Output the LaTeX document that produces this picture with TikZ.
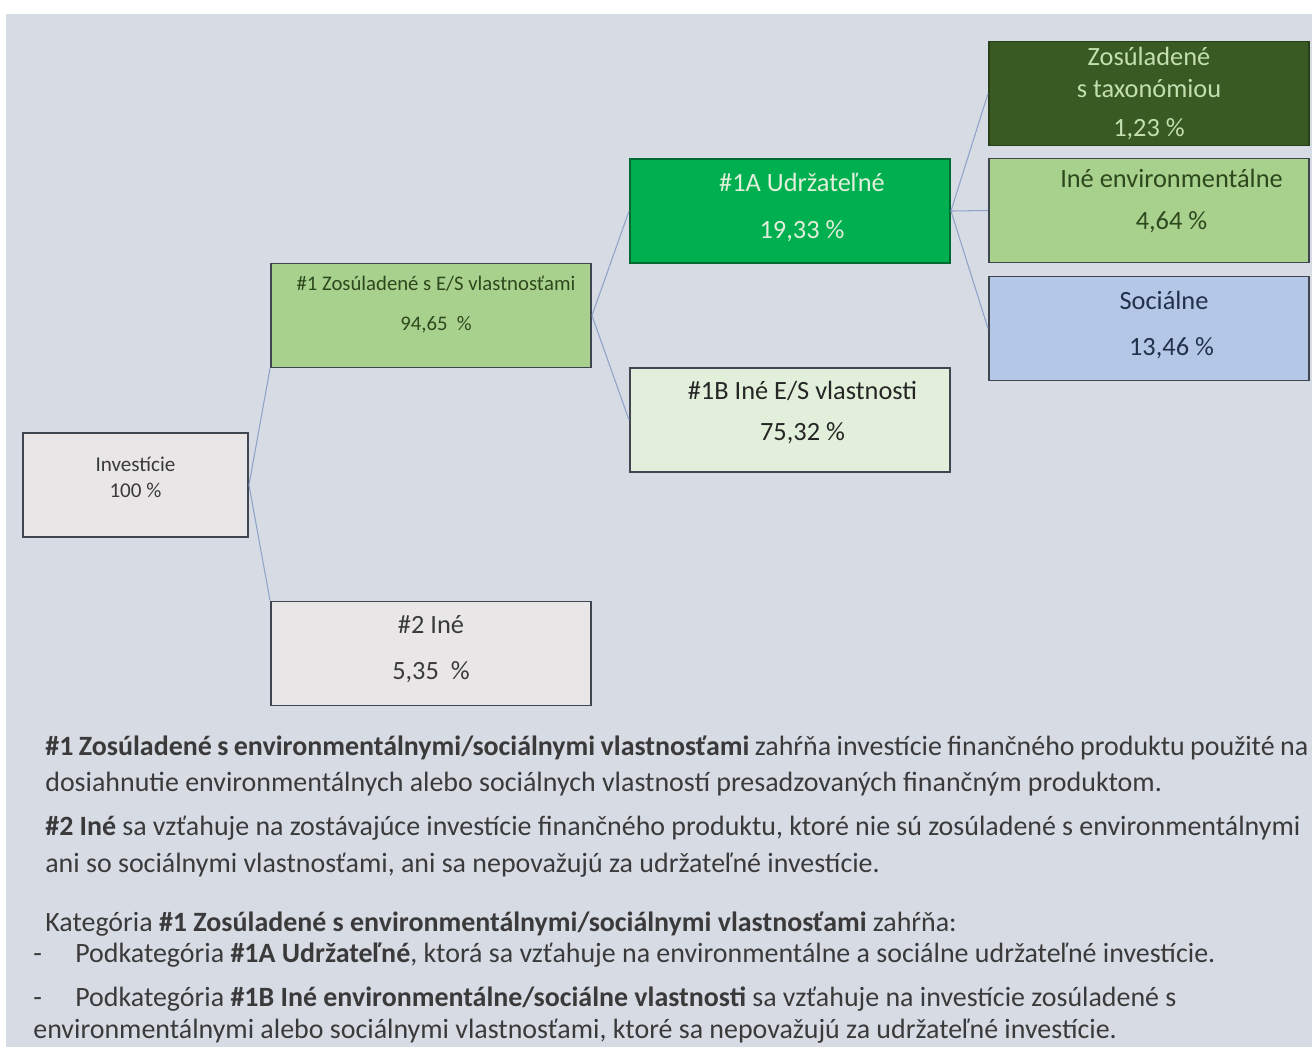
\documentclass[tikz,border=0pt]{standalone}
\usepackage{fontspec}
\setmainfont{Carlito}
\usepackage{tikz}
\usetikzlibrary{positioning}

\definecolor{bgpanel}{HTML}{D6DBE4}
\definecolor{boxline}{HTML}{3F4650}
\definecolor{greyfill}{HTML}{E9E6E8}
\definecolor{lightgreen}{HTML}{A9D18E}
\definecolor{midgreen}{HTML}{00B050}
\definecolor{palegreen}{HTML}{E2EFDA}
\definecolor{darkgreen}{HTML}{3A5A24}
\definecolor{softblue}{HTML}{B4C7E7}
\definecolor{navytext}{HTML}{22304A}
\definecolor{linkblue}{HTML}{8FA3C8}
\definecolor{bodytext}{HTML}{3A3A3A}

\begin{document}
\begin{tikzpicture}[
    x=0.2mm, y=-0.2mm,
    box/.style={rectangle, draw=boxline, line width=1.1pt, minimum width=6.4cm, minimum height=2.08cm, align=center, inner sep=2pt, font=\fontsize{15}{18}\selectfont},
    greybox/.style={box, fill=greyfill, text=bodytext},
    esbox/.style={box, fill=lightgreen, text=darkgreen!80!black},
    sustbox/.style={box, fill=midgreen, draw=midgreen!60!black, text=palegreen},
    otherbox/.style={box, fill=palegreen, text=black!85},
    taxbox/.style={box, fill=darkgreen, draw=darkgreen!70!black, text=lightgreen!70!white},
    socbox/.style={box, fill=softblue, draw=boxline, text=navytext},
    link/.style={draw=linkblue, line width=0.6pt},
    body/.style={anchor=base west, inner sep=0pt, text=bodytext, font=\fontsize{15.9}{19}\selectfont}
]

% page and panel
\useasboundingbox (0,0) rectangle (1312,1047);
\fill[white] (0,0) rectangle (1312,1047);
\fill[bgpanel] (6,14) rectangle (1312,1047);

% tree of investments
\node[greybox, minimum width=4.5cm, text depth=0.31cm, font=\fontsize{12}{14.7}\selectfont] (inv) at (135.5,485) {Investície\\100 \%};
\node[esbox, text depth=0.49cm, font=\fontsize{11.8}{14}\selectfont] (es) at (431,315.5) {\hspace*{0.2cm}\#1 Zosúladené s E/S vlastnosťami\\[0.3cm]\hspace*{0.2cm}94,65~~\%};
\node[greybox, text depth=0.25cm] (other) at (431,653.5) {\#2 Iné\\[0.28cm]5,35~~\%};
\node[sustbox, text depth=0.21cm] (sust) at (790,211) {\hspace*{0.48cm}\#1A Udržateľné\\[0.3cm]\hspace*{0.48cm}19,33 \%};
\node[otherbox, text depth=0.37cm] (otheres) at (790,420) {\hspace*{0.5cm}\#1B Iné E/S vlastnosti\\[0.2cm]\hspace*{0.5cm}75,32 \%};
\node[taxbox] (tax) at (1149,93.5) {Zosúladené\\s taxonómiou\\[0.15cm]1,23 \%};
\node[esbox, text depth=0.45cm] (env) at (1149,210.5) {\hspace*{0.9cm}Iné environmentálne\\[0.2cm]\hspace*{0.9cm}4,64 \%};
\node[socbox, text depth=0.21cm] (soc) at (1149,328.5) {\hspace*{0.6cm}Sociálne\\[0.3cm]\hspace*{0.9cm}13,46 \%};

% connectors
\draw[link] (inv.east) -- (es.south west);
\draw[link] (inv.east) -- (other.north west);
\draw[link] (es.east) -- (sust.west);
\draw[link] (es.east) -- (otheres.west);
\draw[link] (sust.east) -- (tax.west);
\draw[link] (sust.east) -- (env.west);
\draw[link] (sust.east) -- (soc.west);

% explanatory text
\node[body] (txta) at (45,755) {\makebox[25.26cm][s]{\textbf{\#1 Zosúladené s environmentálnymi/sociálnymi vlastnosťami} zahŕňa investície finančného produktu použité na}};
\node[body] (txtb) at (45,791) {dosiahnutie environmentálnych alebo sociálnych vlastností presadzovaných finančným produktom.};
\node[body] (txtc) at (45,835) {\makebox[25.1cm][s]{\textbf{\#2 Iné} sa vzťahuje na zostávajúce investície finančného produktu, ktoré nie sú zosúladené s environmentálnymi}};
\node[body] (txtd) at (45,872) {ani so sociálnymi vlastnosťami, ani sa nepovažujú za udržateľné investície.};
\node[body] (txte) at (45,931) {Kategória \textbf{\#1 Zosúladené s environmentálnymi/sociálnymi vlastnosťami} zahŕňa:};
\node[body] (txtf) at (33,962) {\makebox[0.84cm][l]{-}Podkategória \textbf{\#1A Udržateľné}, ktorá sa vzťahuje na environmentálne a sociálne udržateľné investície.};
\node[body] (txtg) at (33,1006) {\makebox[0.84cm][l]{-}Podkategória \textbf{\#1B Iné environmentálne/sociálne vlastnosti} sa vzťahuje na investície zosúladené s};
\node[body] (txth) at (33,1038) {environmentálnymi alebo sociálnymi vlastnosťami, ktoré sa nepovažujú za udržateľné investície.};

\end{tikzpicture}
\end{document}
